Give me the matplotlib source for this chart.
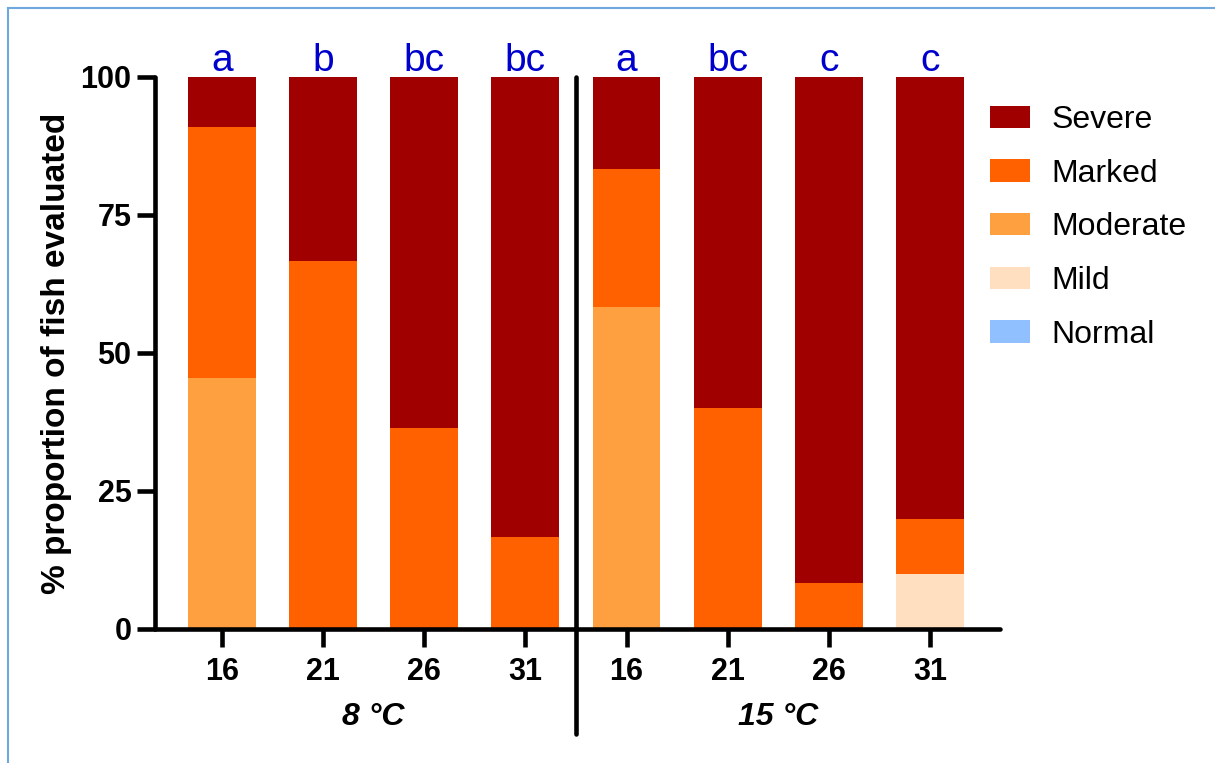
import numpy as np
import matplotlib.pyplot as plt
from matplotlib.lines import Line2D

plt.rcParams['font.family'] = ['Liberation Sans', 'DejaVu Sans']

# days post exposure, two temperature groups
days = ['16', '21', '26', '31', '16', '21', '26', '31']
groups = ['8 °C', '15 °C']
letters = ['a', 'b', 'bc', 'bc', 'a', 'bc', 'c', 'c']

# % of fish per score (stack from bottom: normal -> severe)
normal = [0, 0, 0, 0, 0, 0, 0, 0]
mild = [0, 0, 0, 0, 0, 0, 0, 10]
moderate = [45.45, 0, 0, 0, 58.3, 0, 0, 0]
marked = [45.45, 66.7, 36.4, 16.7, 25.0, 40.0, 8.3, 10]
severe = [9.1, 33.3, 63.6, 83.3, 16.7, 60.0, 91.7, 80]

names = ['Normal', 'Mild', 'Moderate', 'Marked', 'Severe']
colors = ['#90c0ff', '#ffdfc0', '#ffa040', '#ff6000', '#a00000']

fig = plt.figure(figsize=(12.15, 7.63), dpi=100)
ax = fig.add_axes([155/1215, 1-629/763, (1000-155)/1215, (629-77)/763])

x = np.arange(len(days))
bottom = np.zeros(len(days))
handles = []
for vals, name, c in zip([normal, mild, moderate, marked, severe], names, colors):
    b = ax.bar(x, vals, width=0.67, bottom=bottom, color=c, label=name)
    bottom += np.array(vals)
    handles.append(b)

ax.set_xlim(-0.66, 7.69)
ax.set_ylim(0, 100)
ax.set_yticks([0, 25, 50, 75, 100])
ax.set_xticks(x)
ax.set_xticklabels(days)
for s in ['top', 'right']:
    ax.spines[s].set_visible(False)
for s in ['left', 'bottom']:
    ax.spines[s].set_linewidth(3.3)
    ax.spines[s].set_capstyle('round')
ax.tick_params(width=3.3, length=13, labelsize=22)
ax.tick_params(axis='y', pad=4)
ax.tick_params(axis='x', pad=7)
for lab in ax.get_xticklabels() + ax.get_yticklabels():
    lab.set_fontweight('bold')
ax.set_ylabel('% proportion of fish evaluated', fontsize=24, fontweight='bold')
ax.yaxis.set_label_coords(-0.098, 0.5)

for xi, t in zip(x, letters):
    ax.text(xi, 101.0, t, ha='center', va='baseline', color='#0000cc', fontsize=28)

ax.text(1.5, -16, groups[0], ha='center', va='center', fontsize=23,
        fontweight='bold', fontstyle='italic', clip_on=False)
ax.text(5.5, -16, groups[1], ha='center', va='center', fontsize=23,
        fontweight='bold', fontstyle='italic', clip_on=False)

# group separator
ax.plot([3.5, 3.5], [100, -19], color='black', lw=3.3, clip_on=False, solid_capstyle='round')

leg = fig.legend(handles[::-1], names[::-1], loc='upper left',
                 bbox_to_anchor=(990/1215, 1-105/763), bbox_transform=fig.transFigure,
                 frameon=False, fontsize=23, handlelength=1.25, handleheight=0.7,
                 labelspacing=0.74, handletextpad=0.68, borderpad=0, borderaxespad=0)

# light frame at top and left
fig.add_artist(Line2D([8/1215, 8/1215], [0, 1-8/763], color='#6fa8dc', lw=1.5))
fig.add_artist(Line2D([8/1215, 1], [1-8/763, 1-8/763], color='#6fa8dc', lw=1.5))

fig.savefig('out.png', dpi=100)
